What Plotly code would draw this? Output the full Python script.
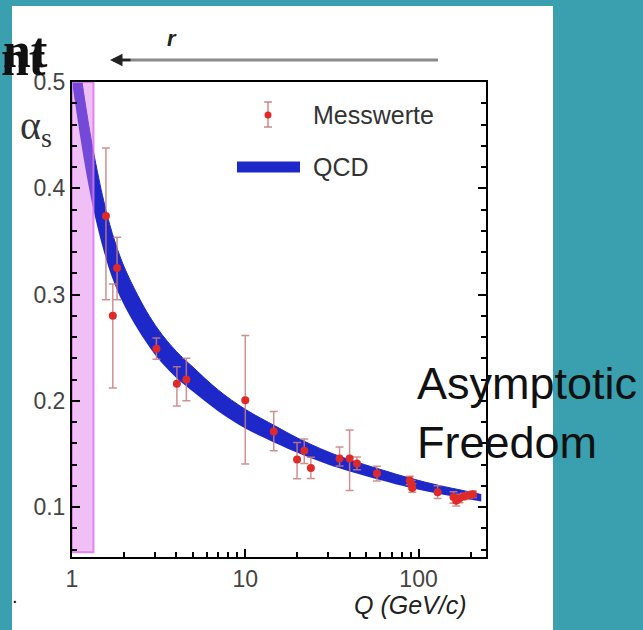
import plotly.graph_objects as go
import numpy as np

# ---------------- data ----------------
# QCD band (running coupling with uncertainty)
band_q = [1.0, 1.06, 1.13, 1.2, 1.29, 1.4, 1.5, 1.63, 1.8, 2.0, 2.4, 2.8, 3.3, 4.0,
          5.0, 7.0, 10, 15, 20, 30, 40, 60, 90, 130, 180, 230]
band_lower = [0.500, 0.472, 0.4425, 0.417, 0.390, 0.364, 0.345, 0.325, 0.306, 0.290,
              0.267, 0.2505, 0.2355, 0.2215, 0.2085, 0.190, 0.174, 0.160, 0.151, 0.140,
              0.1335, 0.1255, 0.118, 0.1125, 0.1084, 0.1052]
band_upper = [0.570, 0.538, 0.5055, 0.477, 0.446, 0.416, 0.393, 0.369, 0.346, 0.326,
              0.299, 0.2795, 0.2625, 0.2465, 0.2315, 0.210, 0.192, 0.176, 0.165, 0.152,
              0.1445, 0.1355, 0.127, 0.1205, 0.1156, 0.1118]

# measurements (Messwerte)
meas_q = [1.57, 1.82, 1.72, 3.07, 4.03, 4.57, 10.0, 14.6, 19.9, 21.9, 23.9, 35.0, 40.0,
          44.1, 57.5, 89.0, 91.2, 92.0, 128.8, 159, 165, 172, 183, 195, 206]
meas_alpha = [0.374, 0.325, 0.280, 0.249, 0.216, 0.220, 0.2005, 0.171, 0.1447, 0.153,
              0.1368, 0.1456, 0.1456, 0.141, 0.1315, 0.125, 0.121, 0.118, 0.114, 0.1095,
              0.106, 0.108, 0.110, 0.111, 0.112]
meas_err_up = [0.064, 0.029, 0.030, 0.010, 0.016, 0.020, 0.061, 0.019, 0.016, 0.011,
               0.010, 0.011, 0.027, 0.006, 0.007, 0.004, 0.004, 0.004, 0.006, 0.005,
               0.004, 0.004, 0.003, 0.003, 0.003]
meas_err_down = [0.079, 0.030, 0.068, 0.010, 0.021, 0.020, 0.060, 0.018, 0.018, 0.012,
                 0.010, 0.007, 0.030, 0.006, 0.007, 0.004, 0.004, 0.004, 0.006, 0.006,
                 0.005, 0.004, 0.003, 0.003, 0.003]

# non-perturbative region highlighted in pink
pink_q = [1.0, 1.33]
pink_alpha = [0.0575, 0.5]

x_tickvals = [1, 10, 100]
x_ticktext = ["1", "10", "100"]
x_minor = [2, 3, 4, 5, 6, 7, 8, 9, 20, 30, 40, 50, 60, 70, 80, 90, 200]
y_tickvals = [0.1, 0.2, 0.3, 0.4, 0.5]
y_ticktext = ["0.1", "0.2", "0.3", "0.4", "0.5"]

# ---------------- figure ----------------
W, H = 643, 630
ML, MR, MT, MB = 72, 157, 82, 73
PW, PH = W - ML - MR, H - MT - MB


def px(x):
    return (x - ML) / PW


def py(y):
    return (H - MB - y) / PH


BLUE = "#1e28c8"
fig = go.Figure()

fig.add_trace(go.Scatter(x=band_q, y=band_lower, mode="lines",
                         line=dict(color=BLUE, width=0, shape="spline"),
                         showlegend=False, hoverinfo="skip"))
fig.add_trace(go.Scatter(x=band_q, y=band_upper, mode="lines", fill="tonexty",
                         fillcolor=BLUE, line=dict(color=BLUE, width=1, shape="spline"),
                         name="QCD", showlegend=False))

fig.add_trace(go.Scatter(
    x=[pink_q[0], pink_q[1], pink_q[1], pink_q[0], pink_q[0]],
    y=[pink_alpha[0], pink_alpha[0], pink_alpha[1], pink_alpha[1], pink_alpha[0]],
    mode="lines", fill="toself", fillcolor="rgba(222,112,236,0.45)",
    line=dict(color="rgba(222,115,238,0.85)", width=2),
    showlegend=False, hoverinfo="skip"))

fig.add_trace(go.Scatter(
    x=meas_q, y=meas_alpha, mode="markers", name="Messwerte",
    marker=dict(color="#e02a2a", size=8),
    error_y=dict(type="data", symmetric=False, array=meas_err_up,
                 arrayminus=meas_err_down, color="rgba(200,125,125,0.85)",
                 thickness=1.5, width=4),
    showlegend=False))

fig.update_layout(
    width=W, height=H,
    margin=dict(l=ML, r=MR, t=MT, b=MB),
    paper_bgcolor="#3a9fae",
    plot_bgcolor="white",
    font=dict(family="Liberation Sans, Arial, sans-serif", color="#444"),
    showlegend=False,
)

fig.update_xaxes(
    type="log", range=[0, np.log10(245)],
    tickvals=x_tickvals, ticktext=x_ticktext,
    ticks="inside", ticklen=8, tickwidth=1.5, tickcolor="black",
    tickfont=dict(size=23, color="#444"),
    minor=dict(tickvals=x_minor, ticks="inside", ticklen=5, tickwidth=1.5,
               tickcolor="black", showgrid=False),
    showline=True, linecolor="black", linewidth=2, mirror=True,
    showgrid=False, zeroline=False,
)
fig.update_yaxes(
    range=[0.053, 0.5],
    tickvals=y_tickvals, ticktext=y_ticktext,
    ticks="inside", ticklen=8, tickwidth=1.5, tickcolor="black",
    tickfont=dict(size=23, color="#444"),
    minor=dict(dtick=0.02, tick0=0, ticks="inside", ticklen=5, tickwidth=1.5,
               tickcolor="black", showgrid=False),
    showline=True, linecolor="black", linewidth=2, mirror="ticks",
    showgrid=False, zeroline=False,
)

# white slide panel
fig.add_shape(type="rect", xref="paper", yref="paper",
              x0=px(12), x1=px(553), y0=py(640), y1=py(6),
              fillcolor="white", line=dict(width=0), layer="below")

# arrow over the plot (r)
fig.add_shape(type="line", xref="paper", yref="paper",
              x0=px(118), x1=px(438), y0=py(60), y1=py(60),
              line=dict(color="#8a8a8a", width=3))
fig.add_annotation(xref="paper", yref="paper", x=px(110), y=py(60),
                   ax=22, ay=0, text="", showarrow=True, arrowhead=2,
                   arrowsize=1, arrowwidth=2.5, arrowcolor="#222")
fig.add_annotation(xref="paper", yref="paper", x=px(172), y=py(38),
                   xanchor="center", yanchor="middle",
                   text="<i><b>r</b></i>", showarrow=False,
                   font=dict(size=22, color="#222"))

# legend (manual)
fig.add_shape(type="line", xref="paper", yref="paper",
              x0=px(268), x1=px(268), y0=py(127), y1=py(102),
              line=dict(color="rgba(200,125,125,0.9)", width=1.5))
for yy in (102, 127):
    fig.add_shape(type="line", xref="paper", yref="paper",
                  x0=px(264), x1=px(272), y0=py(yy), y1=py(yy),
                  line=dict(color="rgba(200,125,125,0.9)", width=1.5))
fig.add_shape(type="circle", xref="paper", yref="paper",
              x0=px(264.5), x1=px(271.5), y0=py(118.5), y1=py(111.5),
              fillcolor="#e02a2a", line=dict(width=0))
fig.add_shape(type="line", xref="paper", yref="paper",
              x0=px(237), x1=px(300), y0=py(167), y1=py(167),
              line=dict(color=BLUE, width=11))
fig.add_annotation(xref="paper", yref="paper", x=px(311), y=py(115),
                   xanchor="left", yanchor="middle", text="Messwerte",
                   showarrow=False, font=dict(size=25, color="#333"))
fig.add_annotation(xref="paper", yref="paper", x=px(311), y=py(167),
                   xanchor="left", yanchor="middle", text="QCD",
                   showarrow=False, font=dict(size=25, color="#333"))

# axis titles
fig.add_annotation(xref="paper", yref="paper", x=px(36), y=py(128),
                   xanchor="center", yanchor="middle",
                   text="α<sub>s</sub>", showarrow=False,
                   font=dict(family="Liberation Serif, serif", size=40, color="#333"))
fig.add_annotation(xref="paper", yref="paper", x=px(410), y=py(605),
                   xanchor="center", yanchor="middle",
                   text="<i>Q (GeV/c)</i>", showarrow=False,
                   font=dict(size=25, color="#222"))

# slide texts
fig.add_annotation(xref="paper", yref="paper", x=px(50), y=py(80),
                   xanchor="right", yanchor="bottom", text="<b>nt</b>",
                   showarrow=False,
                   font=dict(family="Liberation Serif, serif", size=50, color="#111"))
fig.add_annotation(xref="paper", yref="paper", x=px(48), y=py(88),
                   xanchor="right", yanchor="bottom", text="<b>nt</b>",
                   showarrow=False,
                   font=dict(family="Liberation Serif, serif", size=50, color="#111"))
fig.add_annotation(xref="paper", yref="paper", x=px(415), y=py(356),
                   xanchor="left", yanchor="top", align="left",
                   text="Asymptotic<br>Freedom", showarrow=False,
                   font=dict(size=45, color="#111"))
fig.add_annotation(xref="paper", yref="paper", x=px(15), y=py(596),
                   xanchor="center", yanchor="middle",
                   text=".", showarrow=False,
                   font=dict(size=20, color="#111"))

fig.write_html("out.html")
